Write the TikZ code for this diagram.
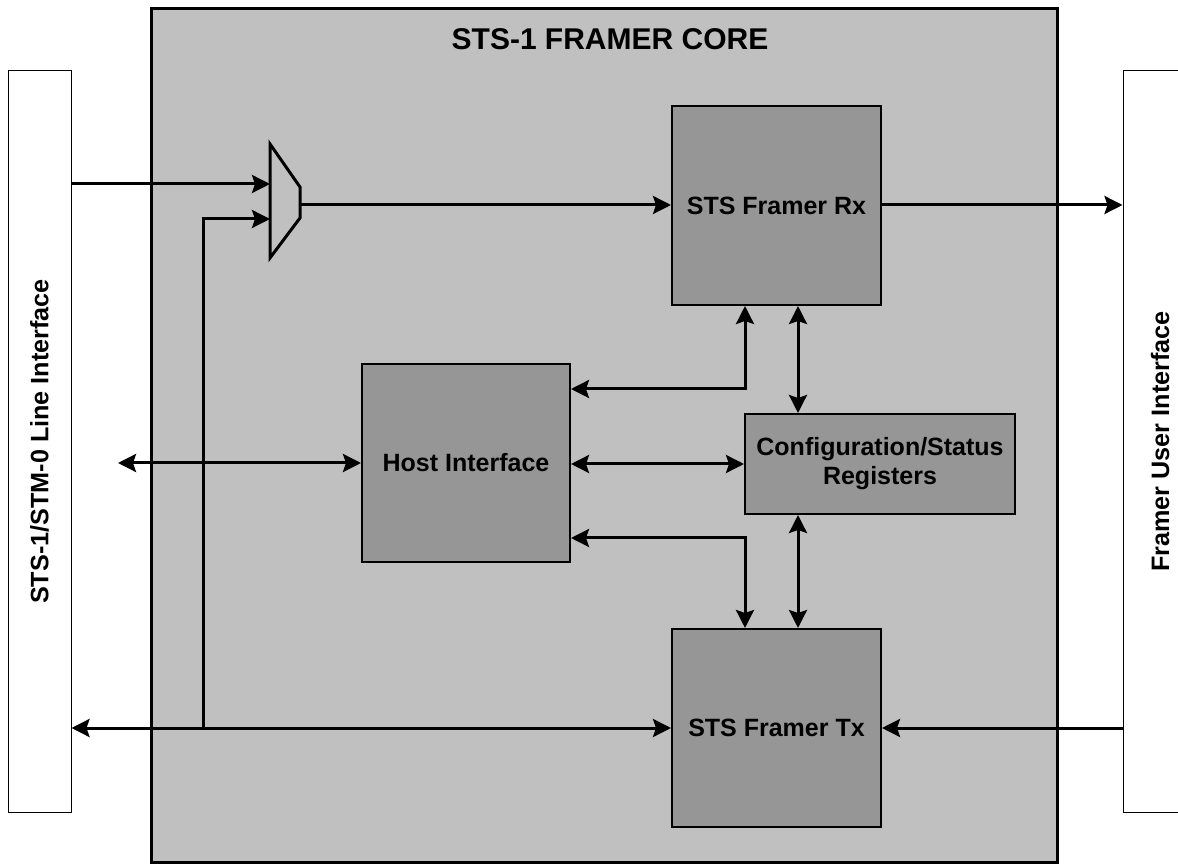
\documentclass[tikz,border=0pt]{standalone}
\usepackage{fontspec}
\setmainfont{Liberation Sans}
\usetikzlibrary{arrows.meta}

\definecolor{coregray}{RGB}{192,192,192}
\definecolor{blockgray}{RGB}{150,150,150}

\begin{document}
\begin{tikzpicture}[x=0.5pt, y=-0.5pt,
  >={Stealth[length=9pt,width=9pt,inset=1.5pt]},
  link/.style={line width=1.5pt},
  block/.style={draw, line width=1pt, fill=blockgray, font=\fontsize{12.5}{14.5}\bfseries, align=center, inner sep=0pt},
  side/.style={draw, line width=0.5pt, fill=white, inner sep=0pt},
  sidetext/.style={rotate=90, font=\fontsize{12.6}{14}\bfseries}]
\useasboundingbox (0,0) rectangle (1178,865);

% interfaces on both sides
\node[side, minimum width=31.5pt, minimum height=370.5pt] (line) at (39.5,441.5) {};
\node[sidetext] (linetext) at (line.center) {STS-1/STM-0 Line Interface};
\node[side, minimum width=38.5pt, minimum height=370.5pt] (user) at (1161.5,441.5) {};
\node[sidetext] (usertext) at (1160,441.5) {Framer User Interface};

% the core
\node[draw, line width=1.5pt, fill=coregray, minimum width=453pt, minimum height=426.5pt] (core) at (604,435.5) {};
\node[font=\fontsize{15}{17}\bfseries] (title) at (610,39) {STS-1 FRAMER CORE};

\node[block, minimum width=104.5pt, minimum height=99.5pt] (rx) at (776.5,205.5) {STS Framer Rx};
\node[block, minimum width=104.5pt, minimum height=99pt] (tx) at (776.5,728) {STS Framer Tx};
\node[block, minimum width=104pt, minimum height=99pt] (host) at (466,463) {Host Interface};
\node[block, minimum width=135pt, minimum height=50pt] (cfg) at (880,464) {Configuration/Status\\Registers};

% mux
\draw[line width=1.5pt, fill=coregray] (270,144) -- (300,187) -- (300,218) -- (270,258) -- cycle;
\coordinate (muxa) at (270,184);
\coordinate (muxb) at (270,219);
\coordinate (muxo) at (300,205);
\coordinate (tap) at (203,728);
\coordinate (hostx) at (118,463);

% data path
\draw[link,->] (line.east |- muxa) -- (muxa);
\draw[link,->] (tap) |- (muxb);
\draw[link,->] (muxo) -- (rx.west |- muxo);
\draw[link,->] (rx.east |- muxo) -- (user.west |- muxo);
\draw[link,<->] (line.east |- tx.west) -- (tx.west);
\draw[link,->] (user.west |- tx.east) -- (tx.east);

% host and registers
\draw[link,<->] (hostx) -- (host.west);
\draw[link,<->] (host.east |- cfg.west) -- (cfg.west);
\draw[link,<->] (host.east |- 0,389) -| (rx.south -| 745,0);
\draw[link,<->] (host.east |- 0,538) -| (tx.north -| 745,0);
\draw[link,<->] (rx.south -| 798,0) -- (cfg.north -| 798,0);
\draw[link,<->] (cfg.south -| 798,0) -- (tx.north -| 798,0);
\end{tikzpicture}
\end{document}
